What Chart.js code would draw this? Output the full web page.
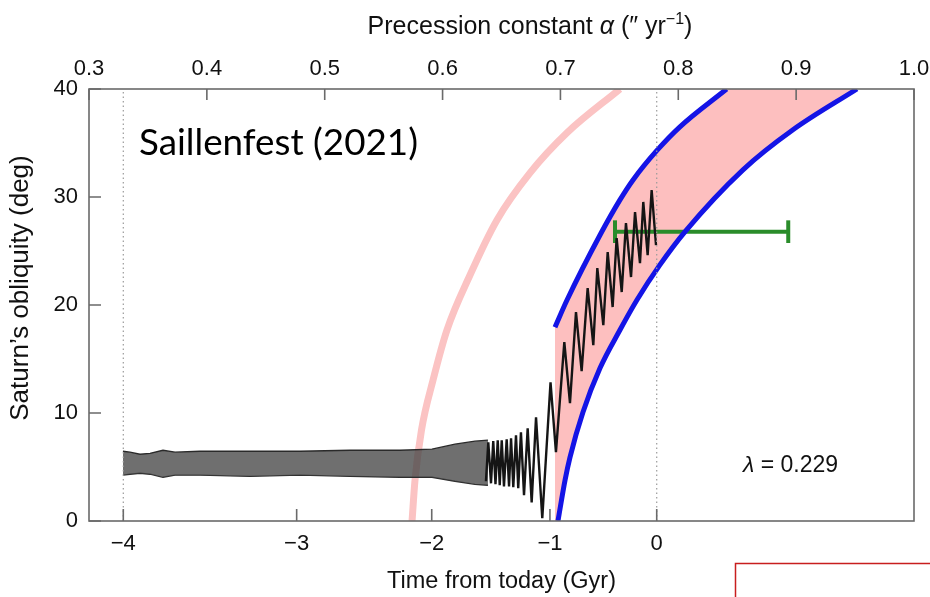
<!DOCTYPE html>
<html><head><meta charset="utf-8">
<script src="https://cdn.jsdelivr.net/npm/chart.js@4.4.1/dist/chart.umd.min.js"></script>
<style>html,body{margin:0;padding:0;background:#fff;overflow:hidden}#wrap{width:930px;height:597px}</style>
</head><body><div id="wrap"><canvas id="c" width="930" height="597"></canvas></div>
<script>
// ---- axis ticks ----
const alphaMin = 0.3, alphaMax = 1.0, alphaStep = 0.1;
const oblMin = 0, oblMax = 40, oblStep = 10;
const timeTickLabels = ['\u22124', '\u22123', '\u22122', '\u22121', '0'];
const timeTickAlpha  = [0.3291, 0.4762, 0.5908, 0.6911, 0.7817];

// dotted reference lines (times -4 and 0)
const refLineAlpha = [0.3291, 0.7817];

// thin pink arc
const arcAlpha = [0.5741, 0.5766, 0.5821, 0.5919, 0.6037, 0.6233, 0.6462, 0.6742, 0.7056, 0.7505];
const arcObl   = [0, 3.77, 8.41, 13.04, 17.68, 22.78, 27.88, 32.24, 35.95, 40];

// blue boundaries of the pink region
const blueUpAlpha = [0.6954, 0.7056, 0.7336, 0.7505, 0.7616, 0.7819, 0.8014, 0.8410];
const blueUpObl   = [17.95, 20.46, 26.48, 29.73, 31.58, 34.31, 36.50, 40];
const blueLoAlpha = [0.6979, 0.7039, 0.7081, 0.7191, 0.7336, 0.7505, 0.7649, 0.7844, 0.8056, 0.8549, 0.8973, 0.9516];
const blueLoObl   = [0, 3.77, 5.90, 10.07, 14.16, 17.68, 20.46, 23.71, 26.77, 32.51, 36.22, 40];

// dense oscillation band (envelope)
const bandAlpha  = [0.3288, 0.3348, 0.3433, 0.3518, 0.3628, 0.3730, 0.3942, 0.4366, 0.4790, 0.5215, 0.5639, 0.5910, 0.6105, 0.6275, 0.6385];
const bandTop    = [6.46, 6.37, 6.18, 6.27, 6.55, 6.37, 6.46, 6.46, 6.46, 6.55, 6.55, 6.65, 7.11, 7.39, 7.48];
const bandBottom = [4.24, 4.33, 4.42, 4.33, 4.05, 4.24, 4.24, 4.14, 4.24, 4.14, 4.05, 4.05, 3.68, 3.40, 3.31];

// resolved oscillations (peaks / troughs)
const oscAlpha = [0.6368,0.6388,0.6411,0.6430,0.6449,0.6468,0.6485,0.6502,0.6521,0.6544,0.6564,0.6581,0.6600,0.6623,0.6642,0.6665,0.6691,0.6722,0.6756,0.6793,0.6846,0.6916,0.6962,0.7033,0.7081,0.7132,0.7180,0.7231,0.7279,0.7313,0.7364,0.7401,0.7443,0.7477,0.7520,0.7556,0.7599,0.7633,0.7675,0.7703,0.7740,0.7774,0.7811];
const oscObl   = [3.68,7.29,3.49,7.41,3.40,7.48,3.31,7.48,3.21,7.57,3.21,7.66,3.12,7.94,3.03,8.22,2.38,8.59,1.73,9.61,0.25,12.85,6.37,16.56,10.91,19.34,13.87,21.57,16.28,23.42,18.14,24.90,19.81,26.20,21.20,27.59,22.59,28.61,23.88,29.54,24.62,30.65,25.55];

// green error bar
const errAlphaLow = 0.7463, errAlphaHigh = 0.8933, errObl = 26.79, errCap = 1.05;

// ---- build datasets ----
const pts = (xs, ys) => xs.map((x, i) => ({x, y: ys[i]}));
const polygon = pts(blueUpAlpha, blueUpObl)
  .concat(pts(blueLoAlpha, blueLoObl).reverse())
  .concat([{x: blueUpAlpha[0], y: oblMin}]);

const FONT = "'Liberation Sans', Arial, sans-serif";
const base = {pointRadius: 0, xAxisID: 'x', yAxisID: 'y', fill: false};
const smooth = {cubicInterpolationMode: 'monotone'};

const datasets = [
  Object.assign({}, base, {label:'ref1', data:[{x:refLineAlpha[0],y:oblMin},{x:refLineAlpha[0],y:oblMax}], borderColor:'#9a9a9a', borderWidth:1.2, borderDash:[1.5,3], order:0}),
  Object.assign({}, base, {label:'ref2', data:[{x:refLineAlpha[1],y:oblMin},{x:refLineAlpha[1],y:oblMax}], borderColor:'#9a9a9a', borderWidth:1.2, borderDash:[1.5,3], order:0}),
  Object.assign({}, base, smooth, {label:'blueUp', data:pts(blueUpAlpha, blueUpObl), borderColor:'#1414e6', borderWidth:5, order:1}),
  Object.assign({}, base, smooth, {label:'blueLo', data:pts(blueLoAlpha, blueLoObl), borderColor:'#1414e6', borderWidth:5, order:1}),
  Object.assign({}, base, {label:'osc', data:pts(oscAlpha, oscObl), borderColor:'#151515', borderWidth:2.4, tension:0, order:2}),
  Object.assign({}, base, {label:'err', data:[{x:errAlphaLow,y:errObl},{x:errAlphaHigh,y:errObl}], borderColor:'#2a8c2a', borderWidth:4, order:3}),
  Object.assign({}, base, {label:'errCapL', data:[{x:errAlphaLow,y:errObl-errCap},{x:errAlphaLow,y:errObl+errCap}], borderColor:'#2a8c2a', borderWidth:4, order:3}),
  Object.assign({}, base, {label:'errCapR', data:[{x:errAlphaHigh,y:errObl-errCap},{x:errAlphaHigh,y:errObl+errCap}], borderColor:'#2a8c2a', borderWidth:4, order:3}),
  Object.assign({}, base, {label:'bandTop', data:pts(bandAlpha, bandTop), borderColor:'#2a2a2a', borderWidth:1.3, fill:'+1', backgroundColor:'rgba(70,70,70,0.78)', order:4}),
  Object.assign({}, base, {label:'bandBot', data:pts(bandAlpha, bandBottom), borderColor:'#2a2a2a', borderWidth:1.3, order:4}),
  Object.assign({}, base, {label:'pinkRegion', data:polygon, borderWidth:0, borderColor:'rgba(0,0,0,0)', fill:'shape', backgroundColor:'#fdbfbf', order:6}),
  Object.assign({}, base, smooth, {label:'arc', data:pts(arcAlpha, arcObl), borderColor:'#fbc3c3', borderWidth:7, order:7})
];

const overlay = {
  id: 'overlay',
  afterDraw(chart) {
    const {ctx, chartArea: a, scales} = chart;
    ctx.save();
    // frame
    ctx.strokeStyle = '#6a6a6a'; ctx.lineWidth = 1.6;
    ctx.strokeRect(a.left, a.top, a.right - a.left, a.bottom - a.top);
    // inward ticks
    ctx.beginPath();
    scales.x.ticks.forEach(t => { const p = scales.x.getPixelForValue(t.value); ctx.moveTo(p, a.top); ctx.lineTo(p, a.top + 11); });
    scales.xb.ticks.forEach(t => { const p = scales.xb.getPixelForValue(t.value); ctx.moveTo(p, a.bottom); ctx.lineTo(p, a.bottom - 12); });
    scales.y.ticks.forEach(t => { const p = scales.y.getPixelForValue(t.value); ctx.moveTo(a.left, p); ctx.lineTo(a.left + 12, p); });
    ctx.stroke();

    ctx.fillStyle = '#111';
    // top title with italic alpha and superscript
    const fs = 25;
    const parts = [
      {t:'Precession constant ', f:`${fs}px ${FONT}`, dy:0},
      {t:'\u03b1', f:`italic ${fs}px ${FONT}`, dy:0},
      {t:' (\u2033 yr', f:`${fs}px ${FONT}`, dy:0},
      {t:'\u22121', f:`${Math.round(fs*0.65)}px ${FONT}`, dy:-10},
      {t:')', f:`${fs}px ${FONT}`, dy:0}
    ];
    let w = 0;
    parts.forEach(p => { ctx.font = p.f; p.w = ctx.measureText(p.t).width; w += p.w; });
    let x = 530 - w / 2;
    ctx.textBaseline = 'alphabetic'; ctx.textAlign = 'left';
    parts.forEach(p => { ctx.font = p.f; ctx.fillText(p.t, x, 34 + p.dy); x += p.w; });

    // bottom title
    ctx.font = `23.5px ${FONT}`; ctx.textAlign = 'center';
    ctx.fillText('Time from today (Gyr)', (a.left + a.right) / 2, 588);

    // y title
    ctx.save();
    ctx.translate(21, 288); ctx.rotate(-Math.PI / 2);
    ctx.textBaseline = 'middle';
    ctx.font = `26px ${FONT}`;
    ctx.fillText('Saturn\u2019s obliquity (deg)', 0, 0);
    ctx.restore();

    // lambda label
    ctx.textAlign = 'left'; ctx.textBaseline = 'alphabetic';
    ctx.font = `italic 23px ${FONT}`;
    const lw = ctx.measureText('\u03bb').width;
    ctx.fillText('\u03bb', 743, 472);
    ctx.font = `23px ${FONT}`;
    ctx.fillText(' = 0.229', 743 + lw, 472);

    // Saillenfest label
    ctx.font = `37px Lato, 'Open Sans', sans-serif`;
    const sw = ctx.measureText('Saillenfest (2021)').width;
    ctx.save();
    ctx.translate(139, 155); ctx.scale(279 / sw, 1);
    ctx.fillStyle = '#000';
    ctx.fillText('Saillenfest (2021)', 0, 0);
    ctx.restore();

    // red box (slide annotation)
    ctx.strokeStyle = '#c81e1e'; ctx.lineWidth = 1.5;
    ctx.strokeRect(735.5, 563.5, 260, 60);
    ctx.restore();
  }
};

const noPad = s => { s.paddingLeft = 0; s.paddingRight = 0; };
const tickFont = {family: FONT, size: 22};
new Chart(document.getElementById('c'), {
  type: 'line',
  data: {datasets},
  options: {
    responsive: false, animation: false, devicePixelRatio: 1,
    layout: {padding: {left: 0, top: 0, right: 16, bottom: 0}},
    plugins: {legend: {display: false}, tooltip: {enabled: false}},
    elements: {point: {radius: 0}},
    scales: {
      x: {
        type: 'linear', position: 'top', min: alphaMin, max: alphaMax,
        afterFit: s => { s.height = 89; noPad(s); },
        grid: {display: false, drawTicks: false}, border: {display: false},
        ticks: {stepSize: alphaStep, autoSkip: false, maxRotation: 0, padding: 7, color: '#111', font: tickFont,
                callback: v => Number(v).toFixed(1)}
      },
      xb: {
        type: 'linear', position: 'bottom', min: alphaMin, max: alphaMax,
        afterBuildTicks: s => { s.ticks = timeTickAlpha.map(v => ({value: v})); },
        afterFit: s => { s.height = 76; noPad(s); },
        grid: {display: false, drawTicks: false}, border: {display: false},
        ticks: {autoSkip: false, maxRotation: 0, padding: 10, color: '#111', font: tickFont,
                callback: (v, i) => timeTickLabels[i]}
      },
      y: {
        type: 'linear', position: 'left', min: oblMin, max: oblMax,
        afterFit: s => { s.width = 89; s.paddingTop = 0; s.paddingBottom = 0; },
        grid: {display: false, drawTicks: false}, border: {display: false},
        ticks: {stepSize: oblStep, padding: 11, color: '#111', font: tickFont}
      }
    }
  },
  plugins: [overlay]
});
</script></body></html>
